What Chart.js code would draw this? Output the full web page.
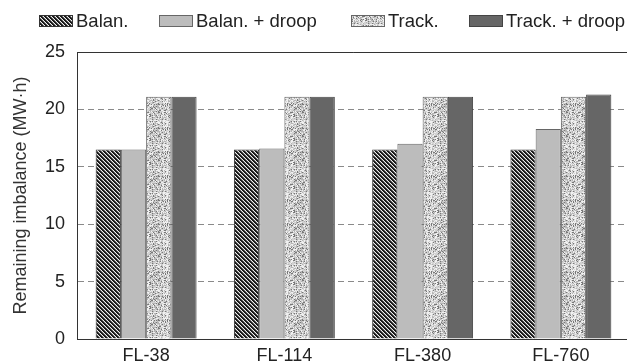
<!DOCTYPE html>
<html>
<head>
<meta charset="utf-8">
<script src="https://cdn.jsdelivr.net/npm/chart.js@4"></script>
<style>
  html, body { margin: 0; padding: 0; background: #fff; overflow: hidden; }
  /* the reference crops the right edge of the plot, so the canvas is a bit wider than the window */
  #wrap { position: relative; width: 640px; height: 364px; }
</style>
</head>
<body>
<div id="wrap"><canvas id="chart"></canvas></div>
<script>
// ---------------------------------------------------------------------------
// Data
// ---------------------------------------------------------------------------
const categories = ["FL-38", "FL-114", "FL-380", "FL-760"];
const seriesNames = ["Balan.", "Balan. + droop", "Track.", "Track. + droop"];

const balan      = [16.5, 16.5, 16.5, 16.5];
const balanDroop = [16.5, 16.6, 17.0, 18.3];
const track      = [21.1, 21.1, 21.1, 21.1];
const trackDroop = [21.1, 21.1, 21.1, 21.3];

const yTicks = [0, 5, 10, 15, 20, 25];
const yTitle = "Remaining imbalance (MW\u00B7h)";

const FONT = "'Liberation Sans', Arial, sans-serif";

// ---------------------------------------------------------------------------
// Fill textures (hatching and stipple) for the patterned bars
// ---------------------------------------------------------------------------
function makeHatch() {
  const c = document.createElement("canvas");
  c.width = 8; c.height = 8;
  const g = c.getContext("2d");
  const img = g.createImageData(8, 8);
  for (let y = 0; y < 8; y++) {
    for (let x = 0; x < 8; x++) {
      const k = (((x - y) % 4) + 4) % 4;
      const v = k < 2 ? 25 : (k === 2 ? 110 : 240);
      const i = (y * 8 + x) * 4;
      img.data[i] = img.data[i + 1] = img.data[i + 2] = v;
      img.data[i + 3] = 255;
    }
  }
  g.putImageData(img, 0, 0);
  return g.createPattern(c, "repeat");
}

function makeStipple() {
  const n = 24;
  const c = document.createElement("canvas");
  c.width = n; c.height = n;
  const g = c.getContext("2d");
  const img = g.createImageData(n, n);
  let s = 12345; // fixed seed -> same texture every run
  for (let p = 0; p < n * n; p++) {
    s = (s * 1103515245 + 12345) & 0x7fffffff;
    const r = (s >> 8) % 100;
    const v = r < 12 ? 120 : (r < 35 ? 180 : (r < 75 ? 210 : 240));
    img.data[p * 4] = img.data[p * 4 + 1] = img.data[p * 4 + 2] = v;
    img.data[p * 4 + 3] = 255;
  }
  g.putImageData(img, 0, 0);
  return g.createPattern(c, "repeat");
}

const hatch = makeHatch();
const stipple = makeStipple();

// ---------------------------------------------------------------------------
// Legend drawn in one row above the plot (box, small gap, text)
// ---------------------------------------------------------------------------
const legendBoxX = [39, 159, 351, 469];

const rowLegend = {
  id: "rowLegend",
  afterDraw(chart) {
    const ctx = chart.ctx;
    ctx.save();
    ctx.font = "18.5px " + FONT;
    ctx.textBaseline = "middle";
    chart.data.datasets.forEach((ds, i) => {
      const x = legendBoxX[i];
      ctx.fillStyle = ds.backgroundColor;
      ctx.fillRect(x, 15, 34, 12);
      ctx.strokeStyle = ds.borderColor;
      ctx.lineWidth = 1;
      ctx.strokeRect(x + 0.5, 15.5, 33, 11);
      ctx.fillStyle = "#222";
      ctx.fillText(ds.label, x + 37, 22);
    });
    ctx.restore();
  },
};

// solid frame line along the top of the plot area
const topFrame = {
  id: "topFrame",
  afterDraw(chart) {
    const { ctx, chartArea } = chart;
    ctx.save();
    ctx.strokeStyle = "#333";
    ctx.lineWidth = 1;
    ctx.beginPath();
    ctx.moveTo(chartArea.left, Math.round(chartArea.top) + 0.5);
    ctx.lineTo(chartArea.right, Math.round(chartArea.top) + 0.5);
    ctx.stroke();
    ctx.restore();
  },
};

// ---------------------------------------------------------------------------
// Chart
// ---------------------------------------------------------------------------
new Chart(document.getElementById("chart"), {
  type: "bar",
  data: {
    labels: categories,
    datasets: [
      { label: seriesNames[0], data: balan,      backgroundColor: hatch,     borderColor: "#333" },
      { label: seriesNames[1], data: balanDroop, backgroundColor: "#bcbcbc", borderColor: "#666" },
      { label: seriesNames[2], data: track,      backgroundColor: stipple,   borderColor: "#666" },
      { label: seriesNames[3], data: trackDroop, backgroundColor: "#666666", borderColor: "#444" },
    ].map((d) => Object.assign(d, {
      borderWidth: 1,
      categoryPercentage: 0.73,
      barPercentage: 1.0,
    })),
  },
  options: {
    responsive: true,
    maintainAspectRatio: false,
    animation: false,
    layout: { padding: { top: 52, right: 10, bottom: 0, left: 0 } },
    plugins: {
      legend: { display: false },
      tooltip: { enabled: false },
    },
    scales: {
      x: {
        grid: { display: true, drawOnChartArea: false, drawTicks: false },
        border: { color: "#333", width: 1 },
        ticks: { color: "#222", font: { family: FONT, size: 18 }, padding: 6 },
        afterFit(scale) { scale.height = 25; },
      },
      y: {
        min: 0,
        max: 25,
        afterBuildTicks(scale) { scale.ticks = yTicks.map((v) => ({ value: v })); },
        grid: { color: "#8a8a8a", lineWidth: 1, drawTicks: false },
        border: { color: "#333", width: 1, dash: [6, 4] },
        ticks: { color: "#222", font: { family: FONT, size: 18 }, padding: 12 },
        title: {
          display: true,
          text: yTitle,
          color: "#333",
          font: { family: FONT, size: 18 },
          padding: { top: 10, bottom: 0 },
        },
        afterFit(scale) { scale.width = 77; },
      },
    },
  },
  plugins: [rowLegend, topFrame],
});
</script>
</body>
</html>
